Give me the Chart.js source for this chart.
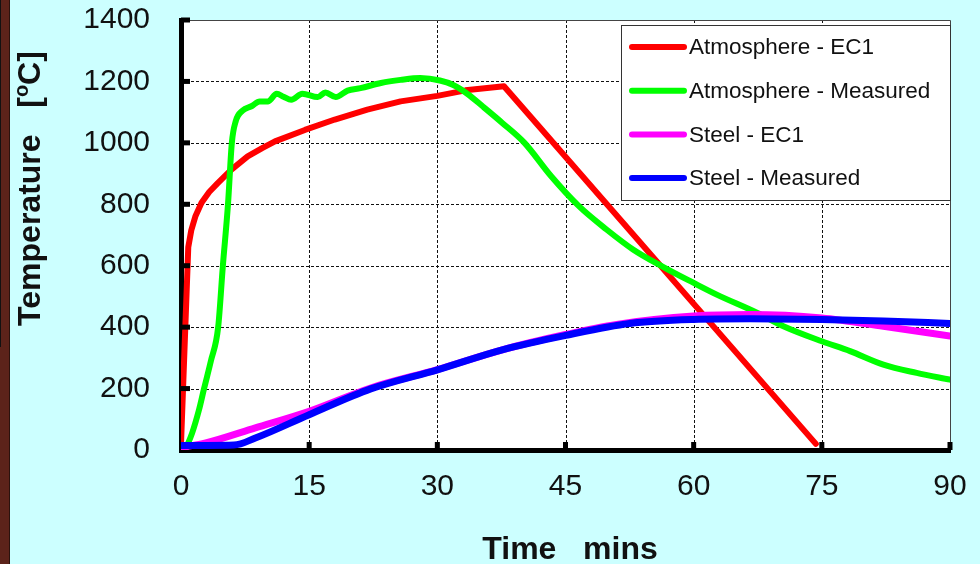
<!DOCTYPE html>
<html>
<head>
<meta charset="utf-8">
<script src="https://cdn.jsdelivr.net/npm/chart.js@4/dist/chart.umd.min.js"></script>
<style>
  html, body { margin: 0; padding: 0; background: #ccffff; }
  #wrap { position: relative; width: 980px; height: 564px; overflow: hidden; }
  #strip { position: absolute; left: 0; top: 0; width: 9px; height: 564px; background: #5c231a; border-right: 1px solid #2a120d; }
  #stripEdge { position: absolute; left: 0; top: 0; width: 1px; height: 347px; background: #111; }
  canvas { position: absolute; left: 0; top: 0; }
</style>
</head>
<body>
<div id="wrap">
  <canvas id="canvas-1" width="980" height="564"></canvas>
  <div id="strip"></div>
  <div id="stripEdge"></div>
</div>
<script>
// tick labels
const timeTicks = [0, 15, 30, 45, 60, 75, 90]
const tempTicks = [0, 200, 400, 600, 800, 1000, 1200, 1400]

const seriesLabels = ['Atmosphere - EC1', 'Atmosphere - Measured', 'Steel - EC1', 'Steel - Measured']
const seriesColors = ['#ff0000', '#00ff00', '#ff00ff', '#0000ff']

// Atmosphere - EC1
const atmosEc1Time = [0, 0.85, 1.2, 1.7, 2.4, 3.3, 4.3, 5.9, 7.8, 9.5, 11, 14.5, 18, 21.8, 25.7, 30, 33.3, 37.8, 74.3]
const atmosEc1Temp = [20, 660, 715, 762, 805, 840, 869, 913, 956, 983, 1005, 1042, 1076, 1108, 1135, 1153, 1171, 1184, 20]

// Atmosphere - Measured
const atmosMeasTime = [0.5, 1.3, 2.1, 2.7, 3.5, 4.35, 4.9, 5.5, 5.95, 6.4, 7.2, 8.3, 9.2, 10.2, 11.2, 12.0, 12.9, 14.2, 16.0, 16.9, 18.1, 19.5, 21, 23.4, 25.7, 28, 30.3, 31.8, 33.5, 35.3, 37.6, 40.2, 43.3, 46.6, 49.8, 52.9, 56.3, 60, 62.7, 67.4, 70.5, 75, 78.3, 82.2, 86.1, 90]
const atmosMeasTemp = [0, 55, 130, 200, 290, 400, 600, 800, 1000, 1070, 1105, 1120, 1135, 1135, 1160, 1150, 1140, 1160, 1149, 1164, 1149, 1170, 1178, 1195, 1205, 1211, 1203, 1189, 1160, 1119, 1065, 1000, 892, 793, 718, 653, 598, 544, 506, 447, 403, 354, 322, 278, 251, 229]

// Steel - EC1
const steelEc1Time = [0, 2.9, 8.7, 15, 22.2, 30, 37.7, 45, 51, 60, 66.6, 75, 82.2, 90]
const steelEc1Temp = [8, 23, 72, 126, 202, 262, 327, 376, 409, 436, 441, 430, 403, 371]

// Steel - Measured
const steelMeasTime = [0, 3, 6.2, 8.7, 15, 22.2, 30.1, 37.7, 45, 52.5, 60, 66.6, 75, 82.2, 90]
const steelMeasTemp = [15, 15, 16, 39, 115, 199, 262, 327, 373, 412, 425, 427, 425, 420, 412]

const toPoints = (xs, ys) => xs.map((x, i) => ({x: x, y: ys[i]}))

const FONT = "'Liberation Sans', Arial, sans-serif"

// white plot area, dashed grid, thin frame, inner tick marks, legend box, axis titles
const chartDecor = {
  id: 'chartDecor',
  beforeDraw(chart) {
    const {ctx, chartArea: a} = chart
    ctx.save()
    ctx.fillStyle = '#ffffff'
    ctx.fillRect(a.left, a.top, a.right - a.left, a.bottom - a.top)
    ctx.restore()
  },
  beforeDatasetsDraw(chart) {
    const {ctx, chartArea: a, scales: {x, y}} = chart
    ctx.save()
    ctx.strokeStyle = '#111'
    ctx.lineWidth = 1
    ctx.setLineDash([3, 2])
    timeTicks.slice(1, -1).forEach(v => {
      const px = Math.round(x.getPixelForValue(v)) + 0.5
      ctx.beginPath()
      ctx.moveTo(px, a.top)
      ctx.lineTo(px, a.bottom)
      ctx.stroke()
    })
    tempTicks.slice(1, -1).forEach(v => {
      const py = Math.round(y.getPixelForValue(v)) + 0.5
      ctx.beginPath()
      ctx.moveTo(a.left, py)
      ctx.lineTo(a.right, py)
      ctx.stroke()
    })
    ctx.setLineDash([])
    ctx.strokeStyle = '#444'
    ctx.beginPath()
    ctx.moveTo(a.left, a.top + 0.5)
    ctx.lineTo(a.right + 0.5, a.top + 0.5)
    ctx.lineTo(a.right + 0.5, a.bottom)
    ctx.stroke()
    ctx.restore()
  },
  afterDraw(chart) {
    const {ctx, chartArea: a, scales: {x, y}} = chart
    ctx.save()

    // tick marks pointing into the plot
    ctx.fillStyle = '#000'
    tempTicks.slice(1).forEach(v => {
      const py = y.getPixelForValue(v)
      ctx.fillRect(a.left, py - 2.5, 9, 5)
    })
    timeTicks.slice(1).forEach(v => {
      const px = x.getPixelForValue(v)
      ctx.fillRect(px - 2.5, a.bottom - 8, 5, 8)
    })

    // legend
    const lx = 621, ly = 25, lw = a.right - lx, lh = 175
    ctx.fillStyle = '#ffffff'
    ctx.fillRect(lx, ly, lw, lh)
    ctx.strokeStyle = '#333'
    ctx.lineWidth = 1
    ctx.strokeRect(lx + 0.5, ly + 0.5, lw, lh)
    ctx.font = '22.5px ' + FONT
    ctx.textBaseline = 'middle'
    ctx.textAlign = 'left'
    seriesLabels.forEach((label, i) => {
      const ry = ly + 22 + i * 43.7
      ctx.strokeStyle = seriesColors[i]
      ctx.lineWidth = 6
      ctx.lineCap = 'round'
      ctx.beginPath()
      ctx.moveTo(632, ry)
      ctx.lineTo(684, ry)
      ctx.stroke()
      ctx.fillStyle = '#111'
      ctx.fillText(label, 689, ry + 1)
    })

    // x title
    ctx.fillStyle = '#111'
    ctx.textBaseline = 'alphabetic'
    ctx.textAlign = 'center'
    ctx.font = 'bold 32px ' + FONT
    ctx.fillText('Time   mins', 570, 559)

    // y title with raised "o"
    ctx.translate(40, 188.5)
    ctx.rotate(-Math.PI / 2)
    ctx.textAlign = 'left'
    const big = 'bold 32px ' + FONT
    const small = 'bold 20px ' + FONT
    const parts = [['Temperature   [', big, 0], ['o', small, -12], ['C]', big, 0]]
    let total = 0
    parts.forEach(p => { ctx.font = p[1]; total += ctx.measureText(p[0]).width })
    let cx = -total / 2
    parts.forEach(p => {
      ctx.font = p[1]
      ctx.fillText(p[0], cx, p[2])
      cx += ctx.measureText(p[0]).width
    })
    ctx.restore()
  }
}

const lineOpts = {fill: false, pointRadius: 0, borderCapStyle: 'round', borderJoinStyle: 'round'}

// eslint-disable-next-line no-unused-vars
const tempChart = new Chart(document.getElementById('canvas-1'), {
  type: 'line',
  data: {
    datasets: [
      Object.assign({label: seriesLabels[0], data: toPoints(atmosEc1Time, atmosEc1Temp), borderColor: seriesColors[0], borderWidth: 6, tension: 0, order: 4}, lineOpts),
      Object.assign({label: seriesLabels[1], data: toPoints(atmosMeasTime, atmosMeasTemp), borderColor: seriesColors[1], borderWidth: 6, cubicInterpolationMode: 'monotone', order: 3}, lineOpts),
      Object.assign({label: seriesLabels[2], data: toPoints(steelEc1Time, steelEc1Temp), borderColor: seriesColors[2], borderWidth: 7, cubicInterpolationMode: 'monotone', order: 2}, lineOpts),
      Object.assign({label: seriesLabels[3], data: toPoints(steelMeasTime, steelMeasTemp), borderColor: seriesColors[3], borderWidth: 7, cubicInterpolationMode: 'monotone', order: 1}, lineOpts)
    ]
  },
  options: {
    responsive: false,
    animation: false,
    layout: {padding: {left: 0, top: 20, right: 30, bottom: 0}},
    plugins: {legend: {display: false}, tooltip: {enabled: false}},
    scales: {
      x: {
        type: 'linear',
        min: 0,
        max: 90,
        afterBuildTicks: scale => { scale.ticks = timeTicks.map(v => ({value: v})) },
        afterFit: scale => {
          scale.height = 114
          scale.paddingLeft = 0
          scale.paddingRight = 0
        },
        grid: {display: false, drawTicks: false},
        border: {display: true, color: '#000', width: 5},
        ticks: {padding: 19, color: '#111', font: {family: FONT, size: 30}, maxRotation: 0, callback: v => String(v)}
      },
      y: {
        min: 0,
        max: 1400,
        afterBuildTicks: scale => { scale.ticks = tempTicks.map(v => ({value: v})) },
        afterFit: scale => {
          scale.width = 181
          scale.paddingTop = 0
          scale.paddingBottom = 0
        },
        grid: {display: false, drawTicks: false},
        border: {display: true, color: '#000', width: 5},
        ticks: {padding: 31, color: '#111', font: {family: FONT, size: 30}, callback: v => String(v)}
      }
    }
  },
  plugins: [chartDecor]
})
</script>
</body>
</html>
